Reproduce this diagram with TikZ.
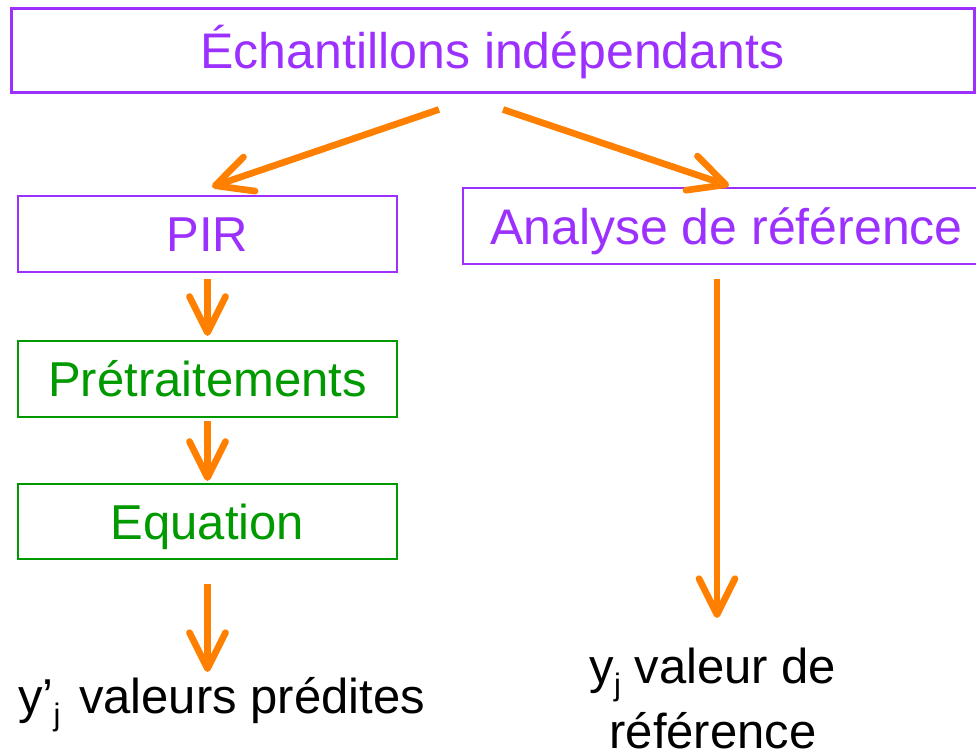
\documentclass[tikz,border=0pt]{standalone}
\usepackage{fontspec}
\setmainfont{Liberation Sans}
\usetikzlibrary{arrows.meta}
\definecolor{vio}{RGB}{155,48,255}
\definecolor{grn}{RGB}{0,153,0}
\definecolor{org}{RGB}{255,128,0}
\newcommand{\subj}{\raisebox{-12pt}{\fontsize{31}{31}\selectfont j}}
\begin{document}
\begin{tikzpicture}[x=1pt,y=-1pt,
  box/.style={draw, rectangle, inner sep=0pt, text height=35pt, text depth=0pt, font=\fontsize{49}{59}\selectfont},
  vbox/.style={box, draw=vio, text=vio, line width=2.5pt},
  gbox/.style={box, draw=grn, text=grn, line width=2.2pt},
  arr/.style={draw=org, line width=6.7pt, -{Straight Barb[length=36pt,width=36pt,round]}},
  lbl/.style={inner sep=0pt, font=\fontsize{49}{65}\selectfont}]
\useasboundingbox (0,0) rectangle (976,752);
\node[vbox, line width=3pt, minimum width=963pt, minimum height=83pt, text height=36pt, font=\fontsize{50}{60}\selectfont] (top) at (492.5,50.5) {Échantillons indépendants};
\node[vbox, minimum width=379pt, minimum height=76pt] (pir) at (207.5,234) {PIR};
\node[vbox, minimum width=527pt, minimum height=76pt, text height=36pt, font=\fontsize{50}{60}\selectfont] (ana) at (726.5,226) {Analyse de référence};
\node[gbox, minimum width=379pt, minimum height=76pt] (pre) at (207.5,379) {Prétraitements};
\node[gbox, minimum width=379pt, minimum height=75pt] (eq) at (207.5,521.5) {Equation};
\node[lbl, anchor=base west] (pred) at (18,713) {y’\subj\hspace{0.38em}valeurs prédites};
\node[lbl, align=center, anchor=base] (ref) at (713,748) {y\subj\ valeur de\\référence};
\coordinate (predtop) at (207.5,672);
\coordinate (reftop) at (717,618);
\draw[arr] ([xshift=-53.5pt,yshift=-16pt]top.south) -- ([xshift=4.5pt,yshift=8pt]pir.north);
\draw[arr] ([xshift=10.5pt,yshift=-16pt]top.south) -- ([xshift=2.5pt,yshift=1pt]ana.north);
\draw[arr] ([yshift=-6pt]pir.south) -- ([yshift=4pt]pre.north);
\draw[arr] ([yshift=-3pt]pre.south) -- ([yshift=2pt]eq.north);
\draw[arr] ([yshift=-24pt]eq.south) -- (predtop);
\draw[arr] ([xshift=-9.5pt,yshift=-14pt]ana.south) -- (reftop);
\end{tikzpicture}
\end{document}
